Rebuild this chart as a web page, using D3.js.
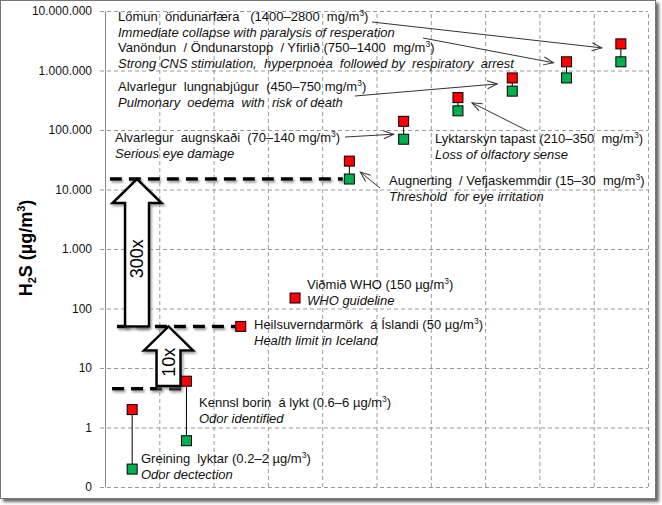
<!DOCTYPE html>
<html>
<head>
<meta charset="utf-8">
<script src="https://cdn.jsdelivr.net/npm/d3@7"></script>
<style>
  body { margin: 0; background: #fff; }
  text { font-family: "Liberation Sans", Arial, sans-serif; }
</style>
</head>
<body>
<div id="chart"></div>
<script>
// categories (Icelandic / English), values in µg/m3
var labelsIs = [
  "Greining  lyktar (0.2–2 µg/m^3)",
  "Kennsl borin  á lykt (0.6–6 µg/m^3)",
  "Heilsuverndarmörk  á Íslandi (50 µg/m^3)",
  "Viðmið WHO (150 µg/m^3)",
  "Augnerting  / Vefjaskemmdir (15–30  mg/m^3)",
  "Alvarlegur  augnskaði  (70–140 mg/m^3)",
  "Lyktarskyn tapast (210–350  mg/m^3)",
  "Alvarlegur  lungnabjúgur  (450–750 mg/m^3)",
  "Vanöndun  / Öndunarstopp  / Yfirlið (750–1400  mg/m^3)",
  "Lömun  öndunarfæra   (1400–2800  mg/m^3)"
];
var labelsEn = [
  "Odor dectection",
  "Odor identified",
  "Health limit in Iceland",
  "WHO guideline",
  "Threshold  for eye irritation",
  "Serious eye damage",
  "Loss of olfactory sense",
  "Pulmonary  oedema  with  risk of death",
  "Strong CNS stimulation,  hyperpnoea  followed by  respiratory  arrest",
  "Immediate collapse with paralysis of resperation"
];
var lowValues  = [0.2, 0.6, null, null, 15000, 70000, 210000, 450000, 750000, 1400000];
var highValues = [2, 6, 50, 150, 30000, 140000, 350000, 750000, 1400000, 2800000];
var yTicks = [0.1, 1, 10, 100, 1000, 10000, 100000, 1000000, 10000000];
var refLevels = [4.5, 50, 15000];
var factorArrows = [
  {from: 50, to: 15000, label: "300x"},
  {from: 5, to: 50, label: "10x"}
];

var width = 662, height = 505;
var margin = {top: 11, left: 105, right: 14, bottom: 18};

var svg = d3.select("#chart").append("svg")
  .attr("width", width)
  .attr("height", height);

var defs = svg.append("defs");
var shadow = defs.append("filter").attr("id", "shadow")
  .attr("filterUnits", "userSpaceOnUse")
  .attr("x", 0).attr("y", 0).attr("width", width).attr("height", height);
shadow.append("feDropShadow")
  .attr("dx", 1.5).attr("dy", 2).attr("stdDeviation", 1.2)
  .attr("flood-color", "#777").attr("flood-opacity", 0.7);

var frameShadow = defs.append("filter").attr("id", "frameShadow")
  .attr("filterUnits", "userSpaceOnUse")
  .attr("x", 0).attr("y", 0).attr("width", width).attr("height", height);
frameShadow.append("feDropShadow")
  .attr("dx", 3).attr("dy", 3).attr("stdDeviation", 1.5)
  .attr("flood-color", "#444").attr("flood-opacity", 0.8);

defs.append("marker").attr("id", "openArrow")
  .attr("viewBox", "0 0 12 10").attr("refX", 11).attr("refY", 5)
  .attr("markerWidth", 12).attr("markerHeight", 10)
  .attr("markerUnits", "userSpaceOnUse").attr("orient", "auto")
  .append("path").attr("d", "M1,1 L11,5 L1,9")
  .attr("fill", "none").attr("stroke", "#333").attr("stroke-width", 1);

// outer frame
svg.append("rect")
  .attr("x", 0.5).attr("y", 0.5)
  .attr("width", 655).attr("height", 498)
  .attr("fill", "#fff").attr("stroke", "#777")
  .attr("filter", "url(#frameShadow)");

var xScale = d3.scaleLinear()
  .domain([0, 10])
  .range([margin.left, width - margin.right]);

var yScale = d3.scaleLog()
  .domain([0.1, 10000000])
  .range([height - margin.bottom, margin.top]);

var locale = d3.formatLocale({decimal: ",", thousands: ".", grouping: [3], currency: ["", ""]});
var fmt = locale.format(",.0f");

// vertical grid
var xGrid = svg.append("g")
  .attr("transform", `translate(0,${height - margin.bottom})`)
  .call(d3.axisBottom(xScale).tickValues(d3.range(1, 11))
    .tickSize(-(height - margin.bottom - margin.top)).tickFormat(""));
xGrid.select(".domain").remove();
xGrid.selectAll("line").attr("stroke", "#9a9a9a").attr("stroke-dasharray", "4,3");

// y axis + horizontal grid
var yAxis = svg.append("g")
  .attr("transform", `translate(${margin.left},0)`)
  .call(d3.axisLeft(yScale).tickValues(yTicks).tickFormat(fmt)
    .tickSizeInner(-(width - margin.left - margin.right)).tickSizeOuter(0).tickPadding(13));
yAxis.select(".domain").attr("stroke", "#888");
yAxis.selectAll(".tick line")
  .attr("x1", -5)
  .attr("stroke", "#9a9a9a").attr("stroke-dasharray", "4,3");
yAxis.selectAll(".tick text")
  .attr("font-size", 12).attr("fill", "#111")
  .attr("font-family", "'Liberation Sans', Arial, sans-serif");
yAxis.select(".domain").raise();

// y label
var yLabel = svg.append("text")
  .attr("transform", "translate(32,248) rotate(-90)")
  .attr("text-anchor", "middle")
  .attr("font-size", 18).attr("font-weight", "bold").attr("fill", "#000");
yLabel.append("tspan").text("H");
yLabel.append("tspan").attr("font-size", 11).attr("dy", 4).text("2");
yLabel.append("tspan").attr("dy", -4).text("S (µg/m");
yLabel.append("tspan").attr("font-size", 11).attr("dy", -7).text("3");
yLabel.append("tspan").attr("dy", 7).text(")");

// thick dashed reference lines (x extent in data units)
var refExtents = [[0.13, 1.42], [0.22, 2.4], [0.09, 4.38]];
svg.selectAll(".ref")
  .data(refLevels)
  .enter()
  .append("line")
    .attr("class", "ref")
    .attr("x1", function(d, i) { return xScale(refExtents[i][0]); })
    .attr("x2", function(d, i) { return xScale(refExtents[i][1]); })
    .attr("y1", function(d) { return yScale(d); })
    .attr("y2", function(d) { return yScale(d); })
    .attr("stroke", "#000").attr("stroke-width", 3.5)
    .attr("stroke-dasharray", "12,7")
    .attr("filter", "url(#shadow)");

// big block arrows
var arrowX = [0.59, 1.17];
var shaftW = 12, headW = 24.5, headL = 24;
factorArrows.forEach(function(a, i) {
  var cx = xScale(arrowX[i]);
  var yb = yScale(a.from), yt = yScale(a.to), yh = yt + headL;
  var p = [[cx - shaftW, yb], [cx - shaftW, yh], [cx - headW, yh], [cx, yt],
           [cx + headW, yh], [cx + shaftW, yh], [cx + shaftW, yb]];
  svg.append("path")
    .attr("d", d3.line()(p) + "Z")
    .attr("fill", "#fff").attr("stroke", "#000").attr("stroke-width", 2.5)
    .attr("stroke-linejoin", "miter")
    .attr("filter", "url(#shadow)");
  var my = (yh + yb) / 2 - 6;
  svg.append("text")
    .attr("transform", `translate(${cx + 6},${my}) rotate(-90)`)
    .attr("text-anchor", "middle")
    .attr("font-size", 18).attr("fill", "#000")
    .text(a.label);
});

// range connectors and markers
var cats = d3.range(labelsIs.length);
svg.selectAll(".conn")
  .data(cats.filter(function(i) { return lowValues[i] != null; }))
  .enter()
  .append("line")
    .attr("x1", function(i) { return xScale(i + 0.5); })
    .attr("x2", function(i) { return xScale(i + 0.5); })
    .attr("y1", function(i) { return yScale(lowValues[i]); })
    .attr("y2", function(i) { return yScale(highValues[i]); })
    .attr("stroke", "#000").attr("stroke-width", 1);

var ms = 10;
svg.selectAll(".low")
  .data(cats.filter(function(i) { return lowValues[i] != null; }))
  .enter()
  .append("rect")
    .attr("x", function(i) { return xScale(i + 0.5) - ms / 2; })
    .attr("y", function(i) { return yScale(lowValues[i]) - ms / 2; })
    .attr("width", ms).attr("height", ms)
    .attr("fill", "#00b050").attr("stroke", "#000").attr("stroke-width", 1);

svg.selectAll(".high")
  .data(cats)
  .enter()
  .append("rect")
    .attr("x", function(i) { return xScale(i + 0.5) - ms / 2; })
    .attr("y", function(i) { return yScale(highValues[i]) - ms / 2; })
    .attr("width", ms).attr("height", ms)
    .attr("fill", "#ff0000").attr("stroke", "#000").attr("stroke-width", 1);

// annotation text positions (px: left x, baseline of first line)
var textPos = [[141, 463], [199, 407], [254, 329], [307, 289], [389, 185],
               [115, 142], [435, 143], [118, 91], [118, 52], [118, 21]];

function addSup(sel, str) {
  var parts = str.split("^");
  sel.append("tspan").text(parts[0]);
  if (parts.length > 1) {
    sel.append("tspan").attr("font-size", 8.5).attr("dy", -5).text(parts[1].charAt(0));
    sel.append("tspan").attr("dy", 5).text(parts[1].slice(1));
  }
}

cats.forEach(function(i) {
  var t1 = svg.append("text")
    .attr("x", textPos[i][0]).attr("y", textPos[i][1])
    .attr("font-size", 13).attr("fill", "#111")
    .style("white-space", "pre");
  addSup(t1, labelsIs[i]);
  svg.append("text")
    .attr("x", textPos[i][0]).attr("y", textPos[i][1] + 15.5)
    .attr("font-size", 13).attr("font-style", "italic").attr("fill", "#111")
    .style("white-space", "pre")
    .text(labelsEn[i]);
});

// pointer arrows: start in px, end relative to a marker
var pointers = [
  {start: [372, 22], cat: 9, v: 2800000, dx: -19, dy: 4},
  {start: [423, 38], cat: 8, v: 1400000, dx: -13, dy: 1},
  {start: [355, 96], cat: 7, v: 750000, dx: -15, dy: 6},
  {start: [345, 137], cat: 5, v: 70000, dx: -10, dy: -5},
  {start: [528, 131], cat: 6, v: 210000, dx: 14, dy: -8},
  {start: [380, 188], cat: 4, v: 15000, dx: 11, dy: -7}
];
svg.selectAll(".ptr")
  .data(pointers)
  .enter()
  .append("line")
    .attr("x1", function(d) { return d.start[0]; })
    .attr("y1", function(d) { return d.start[1]; })
    .attr("x2", function(d) { return xScale(d.cat + 0.5) + d.dx; })
    .attr("y2", function(d) { return yScale(d.v) + d.dy; })
    .attr("stroke", "#333").attr("stroke-width", 1)
    .attr("marker-end", "url(#openArrow)");
</script>
</body>
</html>
